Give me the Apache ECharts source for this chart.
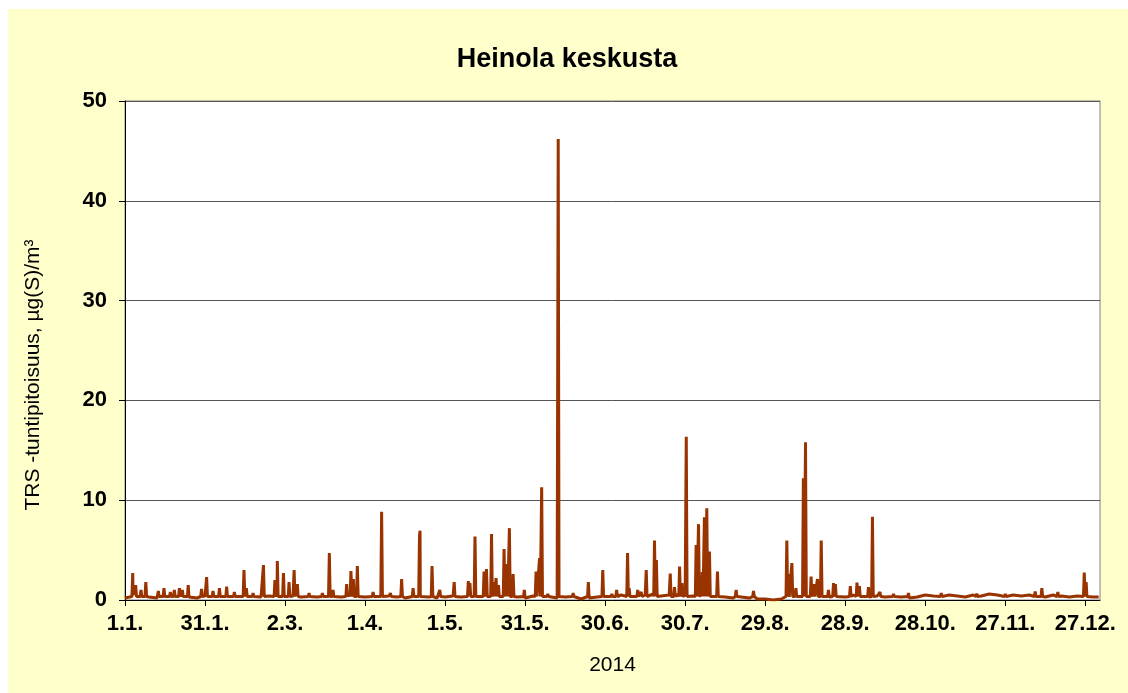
<html>
<head>
    <meta http-equiv="Content-Type" content="text/html; charset=utf-8">
    <title>Heinola keskusta</title>
    <style>
        body{margin:0;background:#fff;}
    </style>
</head>
<body>
<div id="main" style="position:absolute;left:8px;top:9px;width:1120px;height:684px;background:#ffffcc;"></div>
<script type="text/javascript" src="https://cdn.jsdelivr.net/npm/echarts@6/dist/echarts.min.js"></script>
<script type="text/javascript">
// day of year (0 = 1.1.2014) and hourly TRS peaks
var spikeDay = [2.9, 4.0, 6.0, 7.8, 12.5, 14.6, 17.0, 18.5, 20.4, 21.5, 23.7, 28.7, 30.6, 33.0, 35.4,
    38.1, 41.0, 44.6, 45.5, 48.0, 51.9, 56.2, 57.1, 59.4, 61.5, 63.4, 64.6, 69.0, 74.0, 76.6,
    78.0, 83.1, 84.7, 85.6, 87.1, 93.0, 96.2, 99.5, 103.7, 108.0, 110.4, 110.6, 115.1, 118.0,
    123.4, 128.7, 129.3, 131.2, 134.6, 135.5, 137.4, 138.3, 139.1, 140.0, 142.1, 143.2, 144.1,
    145.5, 149.7, 154.1, 155.4, 156.2, 158.5, 162.4, 168.0, 173.7, 179.1, 182.5, 184.3, 188.4,
    189.0, 192.2, 193.5, 195.4, 198.5, 199.2, 204.4, 206.0, 207.9, 208.8, 210.4, 214.1, 215.0,
    216.4, 217.2, 218.1, 219.1, 222.1, 229.1, 235.6, 248.1, 248.8, 250.0, 251.5, 254.3, 255.1,
    257.2, 258.3, 259.6, 261.0, 263.7, 265.6, 266.3, 271.9, 274.4, 275.3, 278.7, 280.2, 283.0,
    288.1, 293.7, 306.0, 319.3, 330.0, 341.2, 343.7, 349.7, 359.6, 360.3];
var spikeVal = [2.7, 1.5, 1.0, 1.8, 0.9, 1.2, 0.8, 1.0, 1.2, 1.0, 1.5, 1.1, 2.3, 0.9, 1.2,
    1.35, 0.8, 3.0, 1.2, 0.7, 3.5, 2.0, 3.9, 2.7, 1.8, 3.0, 1.6, 0.7, 0.7, 4.7,
    1.0, 1.6, 2.9, 2.1, 3.4, 0.8, 8.85, 0.7, 2.1, 1.2, 6.4, 6.95, 3.4, 1.0,
    1.8, 1.9, 1.7, 6.35, 2.85, 3.1, 6.6, 1.8, 2.2, 1.5, 5.1, 3.6, 7.2,
    2.6, 1.0, 2.85, 4.2, 11.3, 0.6, 46.2, 0.7, 1.8, 3.0, 0.6, 1.0, 4.7,
    1.2, 1.0, 0.8, 3.0, 5.95, 4.0, 2.65, 1.3, 3.35, 1.7, 16.35, 5.5, 7.6,
    2.8, 8.3, 9.2, 4.85, 2.85, 1.0, 0.9, 5.95, 2.6, 3.7, 1.2, 12.2, 15.8,
    2.35, 1.6, 2.1, 5.95, 1.0, 1.7, 1.6, 1.4, 1.75, 1.4, 1.3, 8.35, 0.8,
    0.6, 0.7, 0.7, 0.65, 0.7, 0.85, 1.2, 0.8, 2.75, 1.8];

// background level between the peaks, one reading every third day
var baseDay = [0, 3, 6, 9, 12, 15, 18, 21, 24, 27, 30, 33, 36, 39, 42, 45, 48, 51, 54, 57,
    60, 63, 66, 69, 72, 75, 78, 81, 84, 87, 90, 93, 96, 99, 102, 105, 108, 111, 114, 117,
    120, 123, 126, 129, 132, 135, 138, 141, 144, 147, 150, 153, 156, 159, 162, 165, 168, 171, 174, 177,
    180, 183, 186, 189, 192, 195, 198, 201, 204, 207, 210, 213, 216, 219, 222, 225, 228, 231, 234, 237,
    240, 243, 246, 249, 252, 255, 258, 261, 264, 267, 270, 273, 276, 279, 282, 285, 288, 291, 294, 297,
    300, 303, 306, 309, 312, 315, 318, 321, 324, 327, 330, 333, 336, 339, 342, 345, 348, 351, 354, 357,
    360, 363, 365];
var baseVal = [0.2, 0.5, 0.4, 0.3, 0.2, 0.4, 0.3, 0.5, 0.3, 0.2, 0.4, 0.3, 0.2, 0.4, 0.3, 0.5, 0.2, 0.3, 0.4, 0.6,
    0.5, 0.4, 0.3, 0.2, 0.3, 0.4, 0.5, 0.3, 0.6, 0.4, 0.3, 0.2, 0.3, 0.4, 0.3, 0.2, 0.4, 0.5, 0.3, 0.2,
    0.3, 0.4, 0.3, 0.5, 0.4, 0.6, 0.5, 0.4, 0.5, 0.3, 0.2, 0.4, 0.5, 0.3, 0.2, 0.3, 0.2, 0.1, 0.2, 0.3,
    0.4, 0.3, 0.5, 0.4, 0.3, 0.5, 0.6, 0.4, 0.5, 0.6, 0.5, 0.4, 0.6, 0.5, 0.4, 0.3, 0.2, 0.3, 0.2, 0.1,
    0.1, 0.0, 0.1, 0.3, 0.4, 0.5, 0.4, 0.5, 0.3, 0.4, 0.3, 0.5, 0.4, 0.3, 0.4, 0.3, 0.4, 0.3, 0.2, 0.3,
    0.5, 0.4, 0.3, 0.5, 0.4, 0.3, 0.5, 0.4, 0.6, 0.5, 0.6, 0.5, 0.4, 0.5, 0.4, 0.3, 0.5, 0.4, 0.3, 0.4,
    0.5, 0.3, 0.3];

var yTicks = [0, 10, 20, 30, 40, 50];

var points = [];
for (var i = 0; i < baseDay.length; i++) points.push([baseDay[i], baseVal[i]]);
for (var j = 0; j < spikeDay.length; j++) {
    points.push([spikeDay[j] - 0.3, 0.35]);
    points.push([spikeDay[j], spikeVal[j]]);
    points.push([spikeDay[j] + 0.3, 0.35]);
}
points.sort(function (a, b) { return a[0] - b[0]; });

function dayLabel(v) {
    var d = new Date(2014, 0, 1 + v);
    return d.getDate() + '.' + (d.getMonth() + 1) + '.';
}

var myChart = echarts.init(document.getElementById('main'));
var option = {
    animation: false,
    textStyle: {fontFamily: 'Liberation Sans, Arial, sans-serif'},
    title: {
        text: 'Heinola keskusta', left: 554, textAlign: 'center', top: 32,
        textStyle: {fontSize: 27, fontWeight: 'bold', color: '#000'}
    },
    graphic: [{
        type: 'text', x: 25, y: 366, rotation: Math.PI / 2,
        style: {
            text: 'TRS -tuntipitoisuus, µg(S)/m³', align: 'center', verticalAlign: 'middle',
            font: '21px "Liberation Sans", Arial, sans-serif', fill: '#000'
        }
    }],
    grid: {
        left: 117, right: 28, top: 92, bottom: 93,
        show: true, backgroundColor: '#fff', borderColor: '#808080', borderWidth: 1
    },
    xAxis: {
        type: 'value', min: 0, max: 365.5, interval: 30,
        name: '2014', nameLocation: 'middle', nameGap: 55,
        nameTextStyle: {fontSize: 21, color: '#000'},
        axisLine: {onZero: false, lineStyle: {color: '#000', width: 1}},
        axisTick: {show: true, length: 6, lineStyle: {color: '#000'}},
        axisLabel: {
            color: '#000', fontSize: 22, fontWeight: 'bold', margin: 13,
            showMaxLabel: false, formatter: dayLabel
        },
        splitLine: {show: false}
    },
    yAxis: {
        type: 'value', min: yTicks[0], max: yTicks[yTicks.length - 1], interval: 10,
        axisLine: {show: true, lineStyle: {color: '#000', width: 1}},
        axisTick: {show: true, length: 6, inside: false, lineStyle: {color: '#000'}},
        axisLabel: {color: '#000', fontSize: 22, fontWeight: 'bold', margin: 18},
        splitLine: {show: true, lineStyle: {color: '#555', width: 1}}
    },
    series: [{
        type: 'line',
        data: points,
        showSymbol: false,
        lineStyle: {color: '#993300', width: 3},
        itemStyle: {color: '#993300'}
    }]
};
myChart.setOption(option);
</script>
</body>
</html>
